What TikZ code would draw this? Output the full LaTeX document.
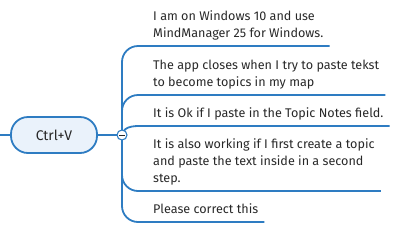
\documentclass[tikz,border=0pt]{standalone}
\usepackage{fontspec}
\setmainfont{Fira Sans}
\usetikzlibrary{positioning,calc}
\definecolor{mmBlue}{RGB}{46,124,194}
\definecolor{mmFill}{RGB}{234,242,251}
\definecolor{mmText}{RGB}{40,40,40}

\tikzset{
  central/.style={draw=mmBlue, line width=1.8pt, fill=mmFill, rounded corners=17pt,
    minimum width=86pt, minimum height=36pt, inner sep=0pt, text=mmText,
    font=\fontsize{14}{16}\selectfont},
  topic/.style={anchor=south west, align=left, inner xsep=6pt, inner ysep=5pt,
    text depth=3pt, text=mmText, font=\fontsize{12.6}{17}\selectfont},
  branch/.style={draw=mmBlue, line width=1.8pt, rounded corners=16pt},
  hubdot/.style={circle, draw=mmBlue, line width=1.1pt, fill=white,
    minimum size=10pt, inner sep=0pt}
}

\begin{document}
\begin{tikzpicture}[x=1pt, y=-1pt]
  \useasboundingbox (0,0) rectangle (402,234);
  \node[central] (ctrl) at (54,135) {Ctrl+V};
  \coordinate (stub) at (0,135);
  \coordinate (hubc) at (122,135);

  % topics
  \node[topic] (t1) at (147,46) {I am on Windows 10 and use\\MindManager 25 for Windows.};
  \node[topic] (t2) at (147,95) {The app closes when I try to paste tekst\\to become topics in my map};
  \node[topic] (t3) at (147,126) {It is Ok if I paste in the Topic Notes field.};
  \node[topic] (t4) at (147,191) {It is also working if I first create a topic\\and paste the text inside in a second\\step.};
  \node[topic] (t5) at (147,222) {Please correct this};

  % branches
  \draw[branch] (hubc) |- (t1.south east);
  \draw[branch] (hubc) |- (t2.south east);
  \draw[branch, rounded corners=0pt] (hubc) to[out=80, in=180] (t3.south west) -- (t3.south east);
  \draw[branch] (hubc) |- (t4.south east);
  \draw[branch] (hubc) |- (t5.south east);

  \draw[branch] (stub) -- (ctrl);
  \draw[branch] (ctrl) -- (hubc);
  \node[hubdot] (hub) at (hubc) {};
  \draw[mmText, line width=1pt] ([xshift=-2.6pt]hub.center) -- ([xshift=2.6pt]hub.center);
\end{tikzpicture}
\end{document}
